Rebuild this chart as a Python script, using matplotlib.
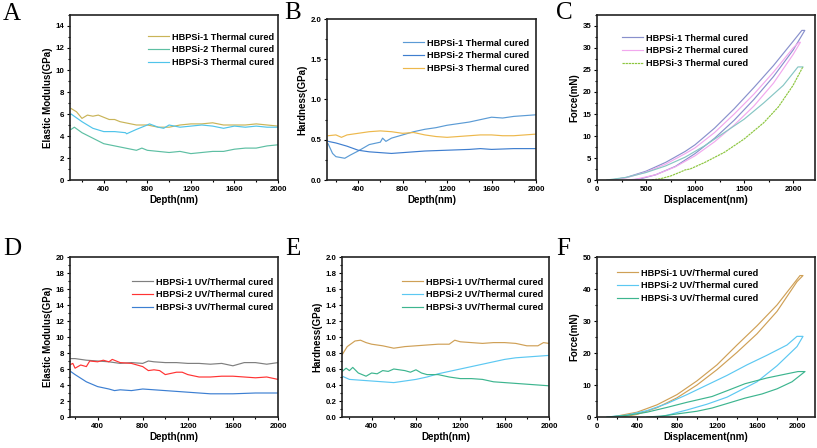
import matplotlib
matplotlib.use('Agg')
import matplotlib.pyplot as plt
from matplotlib.ticker import MultipleLocator

plt.rcParams['font.family'] = ['Liberation Sans', 'DejaVu Sans']
plt.rcParams['font.weight'] = 'bold'

# ---------- A: elastic modulus, thermal cured ----------
a_depth1 = [100, 150, 200, 250, 300, 350, 400, 450, 500, 550, 600, 700, 800, 900, 1000,
            1100, 1200, 1300, 1400, 1500, 1600, 1700, 1800, 1900, 2000]
a_mod1 = [6.5, 6.2, 5.6, 5.9, 5.8, 5.9, 5.7, 5.5, 5.5, 5.3, 5.2, 5.0, 5.0, 4.8, 4.8,
          5.0, 5.1, 5.1, 5.2, 5.0, 5.0, 5.0, 5.1, 5.0, 4.9]
a_depth2 = [100, 130, 200, 300, 400, 500, 600, 700, 750, 800, 900, 1000, 1100, 1200,
            1300, 1400, 1500, 1600, 1700, 1800, 1900, 2000]
a_mod2 = [4.6, 4.8, 4.3, 3.8, 3.3, 3.1, 2.9, 2.7, 2.9, 2.7, 2.6, 2.5, 2.6, 2.4,
          2.5, 2.6, 2.6, 2.8, 2.9, 2.9, 3.1, 3.2]
a_depth3 = [100, 200, 300, 400, 500, 600, 610, 700, 800, 820, 900, 950, 1000, 1100, 1200,
            1300, 1400, 1500, 1600, 1700, 1800, 1900, 2000]
a_mod3 = [6.0, 5.3, 4.7, 4.4, 4.4, 4.3, 4.2, 4.6, 5.0, 5.1, 4.8, 4.7, 5.0, 4.8, 4.9,
          5.0, 4.9, 4.7, 4.9, 4.8, 4.9, 4.8, 4.8]

# ---------- B: hardness, thermal cured ----------
b_depth1 = [130, 170, 200, 280, 330, 400, 500, 600, 620, 650, 700, 800, 900, 1000,
            1100, 1200, 1300, 1400, 1500, 1600, 1700, 1800, 1900, 2000]
b_hard1 = [0.45, 0.33, 0.29, 0.27, 0.31, 0.36, 0.44, 0.47, 0.52, 0.48, 0.52, 0.56, 0.60, 0.63,
           0.65, 0.68, 0.70, 0.72, 0.75, 0.78, 0.77, 0.79, 0.80, 0.81]
b_depth2 = [130, 200, 300, 400, 500, 600, 700, 800, 900, 1000, 1200, 1400, 1500, 1600, 1800, 2000]
b_hard2 = [0.48, 0.46, 0.42, 0.37, 0.35, 0.34, 0.33, 0.34, 0.35, 0.36, 0.37, 0.38, 0.39, 0.38,
           0.39, 0.39]
b_depth3 = [130, 200, 250, 300, 400, 500, 600, 700, 800, 900, 1000, 1100, 1200, 1300, 1400,
            1500, 1600, 1700, 1800, 1900, 2000]
b_hard3 = [0.55, 0.56, 0.53, 0.56, 0.58, 0.60, 0.61, 0.60, 0.58, 0.59, 0.56, 0.54, 0.53, 0.54,
           0.55, 0.56, 0.56, 0.55, 0.55, 0.56, 0.57]

# ---------- C: load-displacement, thermal cured (loading, hold, unloading) ----------
c_disp1 = [150, 300, 500, 700, 900, 1000, 1200, 1400, 1600, 1800, 2000, 2090, 2120,
           2000, 1800, 1600, 1400, 1200, 1000, 800, 600, 450, 350]
c_force1 = [0, 0.6, 2.0, 4.0, 6.5, 8.0, 11.8, 16.2, 21.0, 26.0, 31.5, 34.0, 34.0,
            29.5, 23.5, 18.3, 13.6, 9.5, 6.0, 3.1, 1.2, 0.3, 0]
c_disp2 = [150, 300, 500, 700, 900, 1000, 1200, 1400, 1600, 1800, 2000, 2060, 2075,
           2000, 1800, 1600, 1400, 1200, 1000, 800, 600, 400, 300]
c_force2 = [0, 0.5, 1.8, 3.6, 6.0, 7.3, 10.8, 15.0, 19.5, 24.5, 30.0, 31.3, 31.3,
            28.5, 22.0, 16.8, 12.5, 8.7, 5.5, 3.0, 1.2, 0.2, 0]
c_disp3_load = [100, 300, 500, 700, 900, 1100, 1300, 1500, 1700, 1900, 2050, 2100]
c_force3_load = [0, 0.6, 1.7, 3.2, 5.2, 7.8, 10.8, 13.8, 17.5, 21.5, 25.7, 25.7]
c_disp3_unload = [2100, 2000, 1850, 1700, 1500, 1300, 1100, 1000, 950, 900, 850, 750, 650, 550]
c_force3_unload = [25.7, 21.5, 16.6, 13.0, 9.3, 6.3, 4.0, 3.0, 2.5, 2.3, 1.8, 0.9, 0.3, 0]

# ---------- D: elastic modulus, UV/thermal cured ----------
d_depth1 = [150, 200, 300, 400, 500, 600, 700, 800, 850, 900, 1000, 1100, 1200, 1300,
            1400, 1500, 1600, 1700, 1800, 1900, 2000]
d_mod1 = [7.3, 7.3, 7.1, 7.0, 6.9, 6.7, 6.8, 6.7, 7.0, 6.9, 6.8, 6.8, 6.7, 6.7,
          6.6, 6.7, 6.4, 6.8, 6.8, 6.6, 6.8]
d_depth2 = [150, 180, 200, 250, 300, 330, 400, 450, 500, 530, 600, 700, 800, 850, 900, 950,
            1000, 1100, 1150, 1200, 1300, 1400, 1500, 1600, 1700, 1800, 1900, 2000]
d_mod2 = [6.5, 6.7, 6.1, 6.5, 6.3, 7.0, 6.9, 7.1, 6.9, 7.2, 6.8, 6.7, 6.3, 5.8, 5.9, 5.8,
          5.3, 5.6, 5.6, 5.3, 5.0, 5.0, 5.1, 5.1, 5.0, 4.9, 5.0, 4.7]
d_depth3 = [150, 200, 300, 400, 500, 550, 600, 700, 800, 900, 1000, 1100, 1200, 1300,
            1400, 1600, 1800, 2000]
d_mod3 = [5.8, 5.3, 4.4, 3.8, 3.5, 3.3, 3.4, 3.3, 3.5, 3.4, 3.3, 3.2, 3.1, 3.0,
          2.9, 2.9, 3.0, 3.0]

# ---------- E: hardness, UV/thermal cured ----------
e_depth1 = [135, 180, 250, 300, 350, 400, 500, 600, 700, 800, 900, 1000, 1100, 1150, 1200,
            1300, 1400, 1500, 1600, 1700, 1800, 1900, 1950, 2000]
e_hard1 = [0.78, 0.88, 0.95, 0.96, 0.93, 0.91, 0.89, 0.86, 0.88, 0.89, 0.90, 0.91, 0.91, 0.96,
           0.94, 0.93, 0.92, 0.93, 0.93, 0.92, 0.89, 0.89, 0.93, 0.92]
e_depth2 = [135, 200, 300, 400, 500, 600, 700, 800, 900, 1000, 1100, 1200, 1300, 1400,
            1500, 1600, 1700, 1800, 1900, 2000]
e_hard2 = [0.51, 0.47, 0.46, 0.45, 0.44, 0.43, 0.45, 0.47, 0.50, 0.54, 0.57, 0.60, 0.63, 0.66,
           0.69, 0.72, 0.74, 0.75, 0.76, 0.77]
e_depth3 = [135, 170, 200, 230, 280, 350, 400, 450, 500, 550, 600, 700, 750, 800, 850, 900,
            1000, 1100, 1200, 1300, 1400, 1500, 1600, 1700, 1800, 1900, 2000]
e_hard3 = [0.57, 0.61, 0.58, 0.62, 0.55, 0.51, 0.55, 0.54, 0.58, 0.57, 0.60, 0.58, 0.56, 0.59,
           0.55, 0.53, 0.53, 0.50, 0.48, 0.48, 0.47, 0.44, 0.43, 0.42, 0.41, 0.40, 0.39]

# ---------- F: load-displacement, UV/thermal cured ----------
f_disp1 = [150, 400, 600, 800, 1000, 1200, 1400, 1600, 1800, 2000, 2030, 2060,
           2000, 1800, 1600, 1400, 1200, 1000, 800, 600, 400, 250]
f_force1 = [0, 1.5, 3.8, 7.0, 11.3, 16.3, 22.5, 28.5, 35.0, 43.0, 44.2, 44.2,
            42.3, 33.0, 26.0, 20.2, 14.8, 10.0, 6.0, 2.9, 0.8, 0]
f_disp2 = [100, 300, 500, 700, 900, 1100, 1300, 1500, 1700, 1900, 2000, 2060,
           2000, 1800, 1600, 1400, 1300, 1100, 900, 800, 700, 600]
f_force2 = [0, 0.6, 2.0, 4.2, 7.0, 10.0, 13.0, 16.3, 19.3, 22.5, 25.2, 25.2,
            22.0, 16.0, 11.0, 7.8, 6.2, 4.0, 2.2, 1.4, 0.5, 0]
f_disp3 = [100, 300, 500, 700, 900, 1150, 1300, 1480, 1700, 1900, 2010, 2080,
           1950, 1800, 1650, 1480, 1300, 1150, 1000, 810, 650, 500]
f_force3 = [0, 0.5, 1.5, 3.0, 4.6, 6.4, 8.2, 10.4, 12.2, 13.5, 14.2, 14.2,
            11.0, 8.8, 7.2, 5.9, 4.2, 2.8, 1.8, 1.0, 0.3, 0]

W, H = 817, 448
fig = plt.figure(figsize=(W / 100, H / 100), dpi=100)


def add_axes(l, r, t, b):
    return fig.add_axes([l / W, 1 - b / H, (r - l) / W, (b - t) / H])


def style(ax, xlabel, ylabel):
    for s in ax.spines.values():
        s.set_linewidth(1.2)
        s.set_color('#222222')
    ax.tick_params(which='both', direction='out', width=0.8, labelsize=5.7, pad=1.5)
    ax.tick_params(which='major', length=2.5)
    ax.tick_params(which='minor', length=1.5)
    ax.set_xlabel(xlabel, fontsize=7, fontweight='bold', labelpad=2)
    ax.set_ylabel(ylabel, fontsize=7, fontweight='bold', labelpad=2)
    for lab in ax.get_xticklabels() + ax.get_yticklabels():
        lab.set_fontweight('bold')


def legend(ax, px, py, size):
    ax.legend(loc='upper left', bbox_to_anchor=(px / W, 1 - py / H),
              bbox_transform=fig.transFigure, frameon=False,
              borderpad=0, handlelength=2.3, handletextpad=0.4, labelspacing=0.4,
              prop={'weight': 'bold', 'size': size})


def letter(x, y, s):
    fig.text(x / W, 1 - y / H, s, fontsize=18, family='Liberation Serif',
             fontweight='normal', va='baseline', ha='left')


lw = 0.85
th = ['HBPSi-1 Thermal cured', 'HBPSi-2 Thermal cured', 'HBPSi-3 Thermal cured']
uv = ['HBPSi-1 UV/Thermal cured', 'HBPSi-2 UV/Thermal cured', 'HBPSi-3 UV/Thermal cured']

# A
ax = add_axes(70, 278, 15, 180)
ax.plot(a_depth1, a_mod1, color='#C9B458', lw=lw, label=th[0])
ax.plot(a_depth2, a_mod2, color='#5DBFA3', lw=lw, label=th[1])
ax.plot(a_depth3, a_mod3, color='#4FC4EA', lw=lw, label=th[2])
ax.set_xlim(90, 2000)
ax.set_ylim(0, 15)
ax.xaxis.set_major_locator(MultipleLocator(400))
ax.xaxis.set_minor_locator(MultipleLocator(200))
ax.yaxis.set_major_locator(MultipleLocator(2))
ax.yaxis.set_minor_locator(MultipleLocator(1))
style(ax, 'Depth(nm)', 'Elastic Modulus(GPa)')
legend(ax, 143, 28, 6.6)

# B
ax = add_axes(327, 536, 19, 180)
ax.plot(b_depth1, b_hard1, color='#5B9BD5', lw=lw, label=th[0])
ax.plot(b_depth2, b_hard2, color='#3F7ECF', lw=lw, label=th[1])
ax.plot(b_depth3, b_hard3, color='#EDB84C', lw=lw, label=th[2])
ax.set_xlim(120, 2000)
ax.set_ylim(0, 2.0)
ax.xaxis.set_major_locator(MultipleLocator(400))
ax.xaxis.set_minor_locator(MultipleLocator(200))
ax.yaxis.set_major_locator(MultipleLocator(0.5))
ax.yaxis.set_minor_locator(MultipleLocator(0.25))
style(ax, 'Depth(nm)', 'Hardness(GPa)')
legend(ax, 398, 34, 6.6)

# C
ax = add_axes(597, 815, 15, 180)
ax.plot(c_disp1, c_force1, color='#8890CC', lw=lw, label=th[0])
ax.plot(c_disp2, c_force2, color='#F2A8EE', lw=lw, label=th[1])
ax.plot(c_disp3_unload, c_force3_unload, color='#8CC63F', lw=lw, ls=(0, (2, 0.6)), label=th[2])
ax.plot(c_disp3_load, c_force3_load, color='#86C6C4', lw=lw)
ax.set_xlim(0, 2224)
ax.set_ylim(0, 37.5)
ax.xaxis.set_major_locator(MultipleLocator(500))
ax.xaxis.set_minor_locator(MultipleLocator(250))
ax.yaxis.set_major_locator(MultipleLocator(5))
ax.yaxis.set_minor_locator(MultipleLocator(2.5))
style(ax, 'Displacement(nm)', 'Force(mN)')
legend(ax, 617, 29, 6.6)

# D
ax = add_axes(70, 278, 257, 417)
ax.plot(d_depth1, d_mod1, color='#7F7F7F', lw=lw, label=uv[0])
ax.plot(d_depth2, d_mod2, color='#FF3333', lw=lw, label=uv[1])
ax.plot(d_depth3, d_mod3, color='#3C7FD2', lw=lw, label=uv[2])
ax.set_xlim(155, 2000)
ax.set_ylim(0, 20)
ax.xaxis.set_major_locator(MultipleLocator(400))
ax.xaxis.set_minor_locator(MultipleLocator(200))
ax.yaxis.set_major_locator(MultipleLocator(2))
ax.yaxis.set_minor_locator(MultipleLocator(1))
style(ax, 'Depth(nm)', 'Elastic Modulus(GPa)')
legend(ax, 127, 273, 6.6)

# E
ax = add_axes(342, 549, 257, 417)
ax.plot(e_depth1, e_hard1, color='#CFA056', lw=lw, label=uv[0])
ax.plot(e_depth2, e_hard2, color='#5CC8F2', lw=lw, label=uv[1])
ax.plot(e_depth3, e_hard3, color='#3DB58F', lw=lw, label=uv[2])
ax.set_xlim(133, 2000)
ax.set_ylim(0, 2.0)
ax.xaxis.set_major_locator(MultipleLocator(400))
ax.xaxis.set_minor_locator(MultipleLocator(200))
ax.yaxis.set_major_locator(MultipleLocator(0.2))
ax.yaxis.set_minor_locator(MultipleLocator(0.1))
style(ax, 'Depth(nm)', 'Hardness(GPa)')
legend(ax, 397, 273, 6.6)

# F
ax = add_axes(597, 815, 257, 417)
ax.plot(f_disp1, f_force1, color='#CFA056', lw=lw, label=uv[0])
ax.plot(f_disp2, f_force2, color='#5CC8F2', lw=lw, label=uv[1])
ax.plot(f_disp3, f_force3, color='#3DB58F', lw=lw, label=uv[2])
ax.set_xlim(0, 2180)
ax.set_ylim(0, 50)
ax.xaxis.set_major_locator(MultipleLocator(400))
ax.xaxis.set_minor_locator(MultipleLocator(200))
ax.yaxis.set_major_locator(MultipleLocator(10))
ax.yaxis.set_minor_locator(MultipleLocator(5))
style(ax, 'Displacement(nm)', 'Force(mN)')
legend(ax, 612, 264, 6.6)

letter(3, 20, 'A')
letter(284, 19, 'B')
letter(556, 19, 'C')
letter(3, 255, 'D')
letter(285, 255, 'E')
letter(556, 255, 'F')

fig.savefig('out.png', dpi=100)
